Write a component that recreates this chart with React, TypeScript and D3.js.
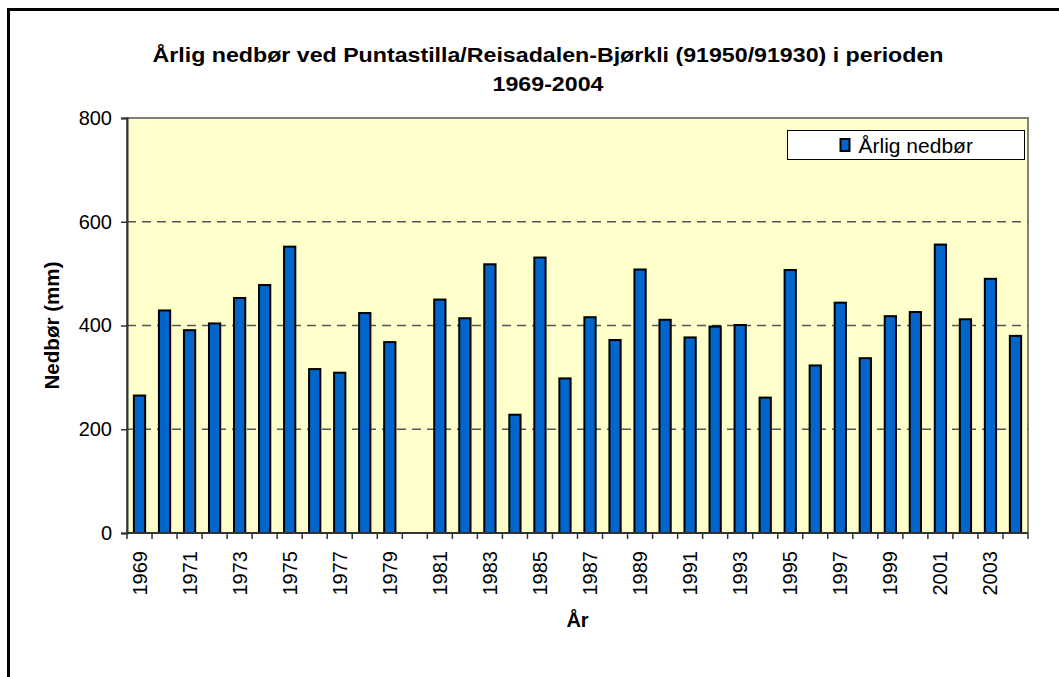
import React, { useEffect, useRef } from "react";
import * as d3 from "d3";

const years = [
  1969, 1970, 1971, 1972, 1973, 1974, 1975, 1976, 1977, 1978, 1979, 1980,
  1981, 1982, 1983, 1984, 1985, 1986, 1987, 1988, 1989, 1990, 1991, 1992,
  1993, 1994, 1995, 1996, 1997, 1998, 1999, 2000, 2001, 2002, 2003, 2004,
];

// 1980 has no value
const precip: (number | null)[] = [
  265, 429, 391, 404, 453, 478, 552, 316, 309, 424, 368, null,
  450, 414, 518, 228, 531, 298, 416, 372, 508, 411, 377, 398,
  401, 261, 507, 323, 444, 337, 418, 426, 556, 412, 490, 380,
];

const yTicks = [0, 200, 400, 600, 800];
const labelYears = years.filter((y) => (y - 1969) % 2 === 0);

const titleLines = [
  "Årlig nedbør ved Puntastilla/Reisadalen-Bjørkli (91950/91930) i perioden",
  "1969-2004",
];
const seriesName = "Årlig nedbør";

const FONT = "'Liberation Sans', Arial, sans-serif";

const App: React.FC = () => {
  const ref = useRef<SVGSVGElement>(null);

  useEffect(() => {
    const W = 1059,
      H = 677;
    const plot = { left: 127, right: 1028, top: 118, bottom: 533 };

    const svg = d3.select(ref.current);
    svg.selectAll("*").remove();

    svg.append("rect").attr("width", W).attr("height", H).attr("fill", "#fff");

    // outer chart border (runs off the right and bottom)
    svg
      .append("rect")
      .attr("x", 8.5)
      .attr("y", 9.5)
      .attr("width", W + 20)
      .attr("height", H + 20)
      .attr("fill", "none")
      .attr("stroke", "#000")
      .attr("stroke-width", 3);

    // title (the original is drawn a bit wider than the font)
    svg
      .append("g")
      .attr("transform", "translate(548,0) scale(1.16,1)")
      .append("text")
      .attr("y", 62)
      .attr("text-anchor", "middle")
      .style("font-family", FONT)
      .style("font-weight", "bold")
      .style("font-size", "20px")
      .selectAll("tspan")
      .data(titleLines)
      .enter()
      .append("tspan")
      .attr("x", 0)
      .attr("dy", (_d, i) => (i === 0 ? 0 : 29))
      .text((d) => d);

    const x = d3
      .scaleBand<number>()
      .domain(years)
      .range([plot.left, plot.right])
      .padding(0);

    const xBar = d3
      .scaleBand<number>()
      .domain(years)
      .range([plot.left, plot.right])
      .paddingInner(0.55)
      .paddingOuter(0.275);

    const y = d3
      .scaleLinear()
      .domain([0, 800])
      .range([plot.bottom, plot.top]);

    // plot background
    svg
      .append("rect")
      .attr("x", plot.left)
      .attr("y", plot.top)
      .attr("width", plot.right - plot.left)
      .attr("height", plot.bottom - plot.top)
      .attr("fill", "#FFFFCC")
      .attr("stroke", "#808080")
      .attr("stroke-width", 2);

    // dashed gridlines
    svg
      .append("g")
      .selectAll("line")
      .data(yTicks.filter((t) => t > 0 && t < 800))
      .enter()
      .append("line")
      .attr("x1", plot.left)
      .attr("x2", plot.right)
      .attr("y1", (d) => y(d))
      .attr("y2", (d) => y(d))
      .attr("stroke", "#555")
      .attr("stroke-width", 1.3)
      .attr("stroke-dasharray", "9,6");

    // bars
    svg
      .append("g")
      .selectAll("rect")
      .data(years.map((yr, i) => ({ yr, v: precip[i] })).filter((d) => d.v !== null))
      .enter()
      .append("rect")
      .attr("x", (d) => xBar(d.yr)!)
      .attr("y", (d) => y(d.v as number))
      .attr("width", xBar.bandwidth())
      .attr("height", (d) => plot.bottom - y(d.v as number))
      .attr("fill", "#0066CC")
      .attr("stroke", "#000")
      .attr("stroke-width", 2);

    // y axis
    const yAxis = svg
      .append("g")
      .attr("transform", `translate(${plot.left},0)`)
      .call(d3.axisLeft(y).tickValues(yTicks).tickSize(6).tickPadding(9));
    yAxis.select(".domain").attr("stroke", "#333").attr("stroke-width", 2);
    yAxis.selectAll(".tick line").attr("stroke", "#333").attr("stroke-width", 1.5);
    yAxis
      .selectAll("text")
      .style("font-family", FONT)
      .style("font-size", "20px")
      .attr("fill", "#000");

    // x axis: ticks on category boundaries
    const bounds = years.map((yr) => x(yr)!).concat([plot.right]);
    const xg = svg.append("g");
    xg.append("line")
      .attr("x1", plot.left)
      .attr("x2", plot.right)
      .attr("y1", plot.bottom)
      .attr("y2", plot.bottom)
      .attr("stroke", "#333")
      .attr("stroke-width", 2);
    xg.selectAll("line.tk")
      .data(bounds)
      .enter()
      .append("line")
      .attr("class", "tk")
      .attr("x1", (d) => d)
      .attr("x2", (d) => d)
      .attr("y1", plot.bottom)
      .attr("y2", plot.bottom + 6)
      .attr("stroke", "#333")
      .attr("stroke-width", 1.5);
    xg.selectAll("text")
      .data(labelYears)
      .enter()
      .append("text")
      .attr(
        "transform",
        (d) => `translate(${x(d)! + x.bandwidth() / 2 + 7},${plot.bottom + 18}) rotate(-90)`
      )
      .attr("text-anchor", "end")
      .style("font-family", FONT)
      .style("font-size", "20px")
      .text((d) => String(d));

    // axis titles
    svg
      .append("text")
      .attr("x", (plot.left + plot.right) / 2)
      .attr("y", 627)
      .attr("text-anchor", "middle")
      .style("font-family", FONT)
      .style("font-weight", "bold")
      .style("font-size", "20px")
      .text("År");

    svg
      .append("text")
      .attr("transform", `translate(59,${(plot.top + plot.bottom) / 2}) rotate(-90)`)
      .attr("text-anchor", "middle")
      .attr("textLength", 128)
      .attr("lengthAdjust", "spacingAndGlyphs")
      .style("font-family", FONT)
      .style("font-weight", "bold")
      .style("font-size", "20px")
      .text("Nedbør (mm)");

    // legend
    const lg = svg.append("g").attr("transform", "translate(787.5,130.5)");
    lg.append("rect")
      .attr("width", 237)
      .attr("height", 29)
      .attr("fill", "#fff")
      .attr("stroke", "#000")
      .attr("stroke-width", 1);
    lg.append("rect")
      .attr("x", 53)
      .attr("y", 8.5)
      .attr("width", 9)
      .attr("height", 12)
      .attr("fill", "#0066CC")
      .attr("stroke", "#000")
      .attr("stroke-width", 2);
    lg.append("text")
      .attr("x", 71)
      .attr("y", 22)
      .style("font-family", FONT)
      .style("font-size", "21px")
      .text(seriesName);
  }, []);

  return (
    <svg
      ref={ref}
      width={1059}
      height={677}
      style={{ position: "absolute", left: 0, top: 0 }}
    />
  );
};

export default App;
